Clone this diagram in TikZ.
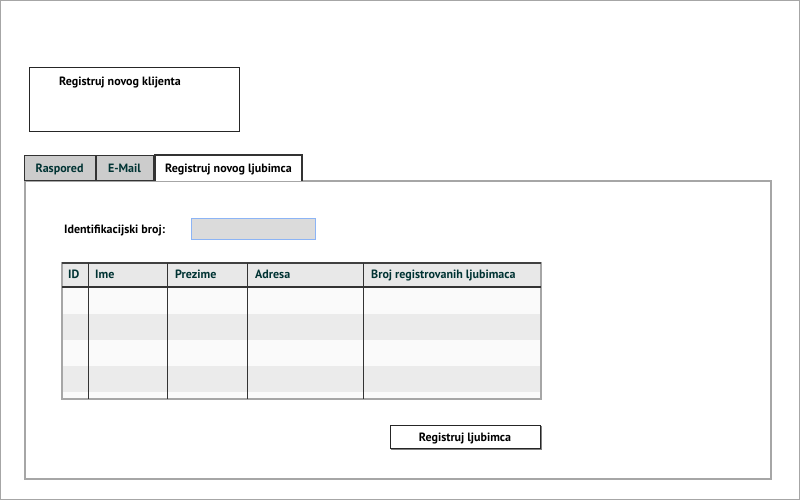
\documentclass[tikz,border=0pt]{standalone}
\usepackage{fontspec}
\setmainfont{PT Sans}
\begin{document}
\begin{tikzpicture}[x=1pt,y=-1pt,
  lbl/.style={font=\bfseries\fontsize{12}{14}\selectfont, inner sep=0pt},
  hdr/.style={font=\bfseries\fontsize{12}{14}\selectfont, text=teal!40!black, inner sep=0pt, anchor=base west},
  tabg/.style={draw=black!80, line width=1.2pt, fill=black!20, inner sep=0pt},
  cell/.style={draw=black!80, line width=1pt}
]
\useasboundingbox (0,0) rectangle (800,500);
\draw[black!35, line width=1.2pt] (0.6,0.6) rectangle (799.4,499.4);
% top box
\node[draw=black!85, line width=1.4pt, minimum width=210pt, minimum height=64pt, anchor=north west, inner sep=0pt] (klijent) at (29,67) {};
\node[lbl, anchor=base west] (klijentt) at (59,86) {Registruj novog klijenta};
% panel
\node[draw=black!35, line width=1.5pt, minimum width=746pt, minimum height=298pt, anchor=north west, inner sep=0pt] (panel) at (24,180) {};
% tabs
\node[tabg, minimum width=71pt, minimum height=25pt, anchor=north west] (tab1) at (24,155) {};
\node[hdr, anchor=base] at (59.5,172) {Raspored};
\node[tabg, minimum width=57pt, minimum height=25pt, anchor=north west] (tab2) at (96,155) {};
\node[hdr, anchor=base] at (124.5,172) {E-Mail};
\draw[black!80, line width=1.2pt, fill=white] (155,181) -- (155,155) -- (302,155) -- (302,181);
\node[lbl, anchor=base] (tab3) at (228.5,172) {Registruj novog ljubimca};
% id field
\node[lbl, anchor=base west] (idl) at (64,233) {Identifikacijski broj:};
\node[draw={rgb,255:red,140;green,180;blue,245}, line width=1pt, fill=black!14, minimum width=124pt, minimum height=21pt, anchor=north west, inner sep=0pt] (idf) at (191,218) {};
% table
\fill[black!9] (62,263) rectangle (541,287);
\fill[black!2] (62,287) rectangle (541,399);
\fill[black!8] (62,314) rectangle (541,340);
\fill[black!8] (62,366) rectangle (541,392);
\draw[black!35, line width=1.2pt] (62,263) rectangle (541,399);
\draw[black!80, line width=1.3pt] (62,287) -- (541,287);
\draw[black!75, line width=1.5pt] (62,263) -- (541,263);
\foreach \x in {88,167,247,363} \draw[cell] (\x,263) -- (\x,399);
\node[hdr] (h1) at (68,278) {ID};
\node[hdr] (h2) at (95,278) {Ime};
\node[hdr] (h3) at (175,278) {Prezime};
\node[hdr] (h4) at (255,278) {Adresa};
\node[hdr] (h5) at (371,278) {Broj registrovanih ljubimaca};
% button
\node[draw=black!85, line width=1.2pt, minimum width=150pt, minimum height=23pt, anchor=north west, inner sep=0pt] (btn) at (390,425) {};
\draw[black!50, line width=1pt] (541,426) -- (541,449) -- (391,449);
\node[lbl, anchor=base] (btnt) at (465,441) {Registruj ljubimca};
\end{tikzpicture}
\end{document}
